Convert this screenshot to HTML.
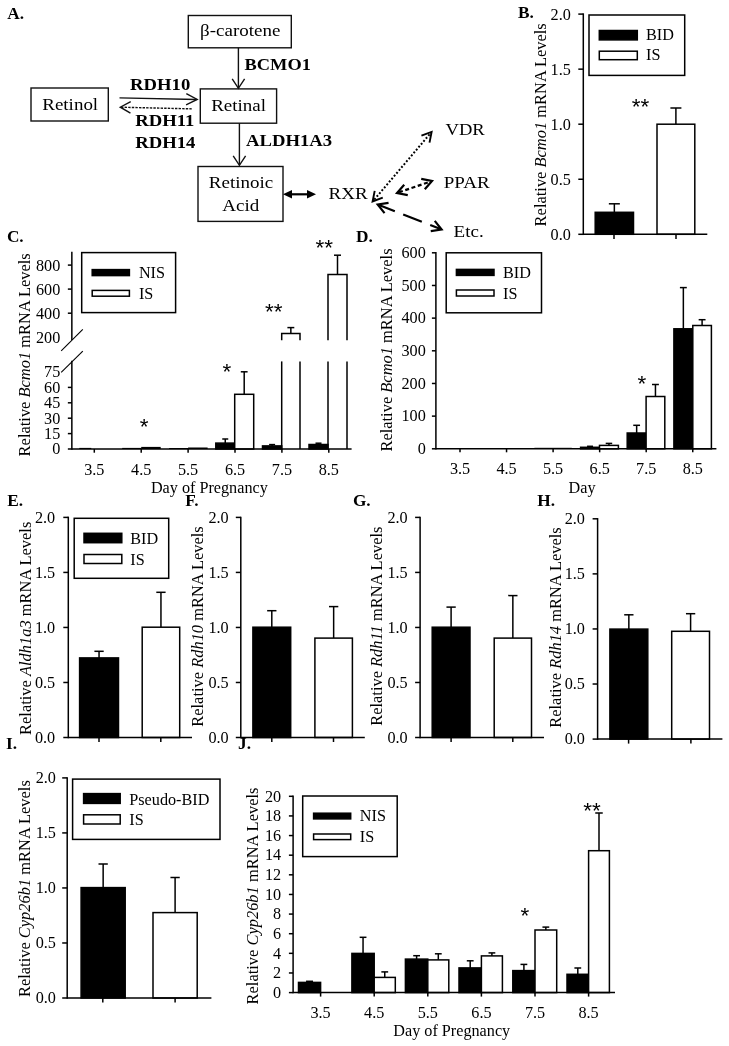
<!DOCTYPE html>
<html lang="en">
<head>
<meta charset="utf-8">
<title>Figure</title>
<style>
html,body{margin:0;padding:0;background:#fff;}
svg{display:block;}
text{font-family:"Liberation Serif", serif;fill:#000;white-space:pre;}
text.s{font-family:"Liberation Sans", sans-serif;}
</style>
</head>
<body>
<svg width="729" height="1046" viewBox="0 0 729 1046">
<rect x="0" y="0" width="729" height="1046" fill="#fff"/>
<text x="7.2" y="18.6" font-size="17.3" text-anchor="start" font-weight="bold" >A.</text>
<rect x="188.3" y="15.5" width="103" height="32.3" fill="#fff" stroke="#111" stroke-width="1.4"/>
<text transform="translate(240.2 36.2) scale(1 0.93)" font-size="19" text-anchor="middle" font-weight="normal">β-carotene</text>
<rect x="31" y="88" width="77.3" height="33" fill="#fff" stroke="#111" stroke-width="1.4"/>
<text transform="translate(70.2 110.2) scale(1 0.93)" font-size="19" text-anchor="middle" font-weight="normal">Retinol</text>
<rect x="200.3" y="88.9" width="76.3" height="34.3" fill="#fff" stroke="#111" stroke-width="1.4"/>
<text transform="translate(238.6 111.2) scale(1 0.93)" font-size="19" text-anchor="middle" font-weight="normal">Retinal</text>
<rect x="198" y="166.5" width="85" height="54.9" fill="#fff" stroke="#111" stroke-width="1.4"/>
<text transform="translate(241 188) scale(1 0.93)" font-size="19" text-anchor="middle" font-weight="normal">Retinoic</text>
<text transform="translate(240.8 210.6) scale(1 0.93)" font-size="19" text-anchor="middle" font-weight="normal">Acid</text>
<line x1="238.4" y1="47.8" x2="238.4" y2="88.3" stroke="#111" stroke-width="1.4" />
<polyline points="232.2,78.8 238.4,88.3 244.6,78.8" fill="none" stroke="#111" stroke-width="1.4" stroke-linejoin="miter"/>
<line x1="239.4" y1="123.2" x2="239.4" y2="165.3" stroke="#111" stroke-width="1.4" />
<polyline points="233.2,155.8 239.4,165.3 245.6,155.8" fill="none" stroke="#111" stroke-width="1.4" stroke-linejoin="miter"/>
<text transform="translate(244.5 69.6) scale(1 0.93)" font-size="18.4" text-anchor="start" font-weight="bold">BCMO1</text>
<text transform="translate(246 145.6) scale(1 0.93)" font-size="18.7" text-anchor="start" font-weight="bold">ALDH1A3</text>
<text transform="translate(130 90) scale(1 0.93)" font-size="18.7" text-anchor="start" font-weight="bold">RDH10</text>
<text transform="translate(135.2 125.5) scale(1 0.93)" font-size="18.7" text-anchor="start" font-weight="bold">RDH11</text>
<text transform="translate(135.2 147.7) scale(1 0.93)" font-size="18.7" text-anchor="start" font-weight="bold">RDH14</text>
<line x1="119.5" y1="97.9" x2="196.6" y2="99.5" stroke="#111" stroke-width="1.4" />
<polyline points="186.08,104.97 197.2,99.5 186.32,93.57" fill="none" stroke="#111" stroke-width="1.4" stroke-linejoin="miter"/>
<line x1="121" y1="107.2" x2="193" y2="108.9" stroke="#111" stroke-width="1.4" stroke-dasharray="2.4 1.2"/>
<polyline points="130.73,101.74 120.3,107.2 130.46,113.14" fill="none" stroke="#111" stroke-width="1.4" stroke-linejoin="miter"/>
<line x1="289" y1="194.3" x2="310" y2="194.3" stroke="#000" stroke-width="2.2" />
<polygon points="283,194.3 292,190 292,198.6" fill="#000"/>
<polygon points="316,194.3 307,190 307,198.6" fill="#000"/>
<text transform="translate(328.6 199.4) scale(1 0.93)" font-size="19" text-anchor="start" font-weight="normal">RXR</text>
<text transform="translate(445.5 134.9) scale(1 0.93)" font-size="18.6" text-anchor="start" font-weight="normal">VDR</text>
<text transform="translate(443.8 187.6) scale(1 0.93)" font-size="19" text-anchor="start" font-weight="normal">PPAR</text>
<text transform="translate(453.6 236.5) scale(1 0.93)" font-size="19" text-anchor="start" font-weight="normal">Etc.</text>
<line x1="374.3" y1="199.6" x2="430.8" y2="132.9" stroke="#000" stroke-width="2" stroke-dasharray="1.9 1.9"/>
<polyline points="429.51,142.57 431.6,131.9 421.42,135.73" fill="none" stroke="#000" stroke-width="1.9" stroke-linejoin="miter"/>
<polyline points="374.69,190.83 372.6,201.5 382.78,197.67" fill="none" stroke="#000" stroke-width="1.9" stroke-linejoin="miter"/>
<line x1="399" y1="192.3" x2="430" y2="181.7" stroke="#000" stroke-width="2.2" stroke-dasharray="4 2.6"/>
<polyline points="424.8,189.28 432,181 421.23,178.88" fill="none" stroke="#000" stroke-width="2.2" stroke-linejoin="miter"/>
<polyline points="404.2,184.72 397,193 407.77,195.12" fill="none" stroke="#000" stroke-width="2.2" stroke-linejoin="miter"/>
<line x1="379" y1="205" x2="440.5" y2="229.1" stroke="#000" stroke-width="2.2" stroke-dasharray="17 9 20 9 30"/>
<polyline points="430.75,231.15 441.6,229.5 434.76,220.91" fill="none" stroke="#000" stroke-width="2.2" stroke-linejoin="miter"/>
<polyline points="388.55,202.85 377.7,204.5 384.54,213.09" fill="none" stroke="#000" stroke-width="2.2" stroke-linejoin="miter"/>
<text x="518" y="18.4" font-size="17.3" text-anchor="start" font-weight="bold" >B.</text>
<line x1="614.35" y1="212.3" x2="614.35" y2="203.8" stroke="#000" stroke-width="1.5" />
<line x1="608.85" y1="203.8" x2="619.85" y2="203.8" stroke="#000" stroke-width="1.5" />
<rect x="595.2" y="212.3" width="38.3" height="22" fill="#000" stroke="#000" stroke-width="1.5"/>
<line x1="675.9" y1="124.2" x2="675.9" y2="108" stroke="#000" stroke-width="1.5" />
<line x1="670.4" y1="108" x2="681.4" y2="108" stroke="#000" stroke-width="1.5" />
<rect x="657" y="124.2" width="37.8" height="110.1" fill="#fff" stroke="#000" stroke-width="1.5"/>
<line x1="583.3" y1="234.3" x2="707.3" y2="234.3" stroke="#000" stroke-width="1.5" />
<line x1="614" y1="234.3" x2="614" y2="239" stroke="#000" stroke-width="1.5" />
<line x1="676" y1="234.3" x2="676" y2="239" stroke="#000" stroke-width="1.5" />
<line x1="583.3" y1="13.35" x2="583.3" y2="235.05" stroke="#000" stroke-width="1.5" />
<line x1="578.3" y1="234.3" x2="583.3" y2="234.3" stroke="#000" stroke-width="1.5" />
<text x="570.8" y="240.1" font-size="16.2" text-anchor="end" font-weight="normal" >0.0</text>
<line x1="578.3" y1="179.25" x2="583.3" y2="179.25" stroke="#000" stroke-width="1.5" />
<text x="570.8" y="185.05" font-size="16.2" text-anchor="end" font-weight="normal" >0.5</text>
<line x1="578.3" y1="124.2" x2="583.3" y2="124.2" stroke="#000" stroke-width="1.5" />
<text x="570.8" y="130" font-size="16.2" text-anchor="end" font-weight="normal" >1.0</text>
<line x1="578.3" y1="69.15" x2="583.3" y2="69.15" stroke="#000" stroke-width="1.5" />
<text x="570.8" y="74.95" font-size="16.2" text-anchor="end" font-weight="normal" >1.5</text>
<line x1="578.3" y1="14.1" x2="583.3" y2="14.1" stroke="#000" stroke-width="1.5" />
<text x="570.8" y="19.9" font-size="16.2" text-anchor="end" font-weight="normal" >2.0</text>
<rect x="589" y="15" width="95.7" height="60.4" fill="#fff" stroke="#000" stroke-width="1.5"/>
<rect x="599.3" y="30.5" width="38" height="9.4" fill="#000" stroke="#000" stroke-width="1.5"/>
<rect x="599.3" y="51.2" width="38" height="8.5" fill="#fff" stroke="#000" stroke-width="1.5"/>
<text x="646" y="40.2" font-size="16.2" text-anchor="start" font-weight="normal" >BID</text>
<text x="646" y="60.3" font-size="16.2" text-anchor="start" font-weight="normal" >IS</text>
<text transform="translate(546.4 124.8) rotate(-90)" font-size="16.45" text-anchor="middle">Relative <tspan font-style="italic">Bcmo1</tspan> mRNA Levels</text>
<text x="640.5" y="114.05" font-size="22.5" text-anchor="middle" class="s">**</text>
<text x="6.9" y="241.5" font-size="17.3" text-anchor="start" font-weight="bold" >C.</text>
<rect x="79.3" y="447.9" width="12" height="1.1" fill="#000"/>
<rect x="122.2" y="447.9" width="19" height="1.1" fill="#000"/>
<rect x="141.2" y="446.9" width="19.5" height="2.1" fill="#000"/>
<rect x="169.1" y="448" width="19" height="1" fill="#000"/>
<rect x="188.1" y="447.5" width="19.5" height="1.5" fill="#000"/>
<line x1="225.25" y1="443.1" x2="225.25" y2="439" stroke="#000" stroke-width="1.5" />
<line x1="222.25" y1="439" x2="228.25" y2="439" stroke="#000" stroke-width="1.5" />
<rect x="215.8" y="443.1" width="18.9" height="5.9" fill="#000" stroke="#000" stroke-width="1.5"/>
<line x1="244.2" y1="394.3" x2="244.2" y2="371.8" stroke="#000" stroke-width="1.5" />
<line x1="240.8" y1="371.8" x2="247.6" y2="371.8" stroke="#000" stroke-width="1.5" />
<rect x="234.7" y="394.3" width="19" height="54.7" fill="#fff" stroke="#000" stroke-width="1.5"/>
<line x1="272.1" y1="445.9" x2="272.1" y2="444.6" stroke="#000" stroke-width="1.5" />
<line x1="269.1" y1="444.6" x2="275.1" y2="444.6" stroke="#000" stroke-width="1.5" />
<rect x="262.5" y="445.9" width="19.2" height="3.1" fill="#000" stroke="#000" stroke-width="1.5"/>
<line x1="290.85" y1="333.4" x2="290.85" y2="327.6" stroke="#000" stroke-width="1.5" />
<line x1="287.4" y1="327.6" x2="294.3" y2="327.6" stroke="#000" stroke-width="1.5" />
<polyline points="281.7,340.2 281.7,333.4 300,333.4 300,340.2" fill="none" stroke="#000" stroke-width="1.5"/>
<line x1="281.7" y1="361.4" x2="281.7" y2="449" stroke="#000" stroke-width="1.5" />
<line x1="300" y1="361.4" x2="300" y2="449" stroke="#000" stroke-width="1.5" />
<line x1="337.5" y1="274.4" x2="337.5" y2="255.2" stroke="#000" stroke-width="1.5" />
<line x1="334" y1="255.2" x2="341" y2="255.2" stroke="#000" stroke-width="1.5" />
<polyline points="328,340.2 328,274.4 347,274.4 347,340.2" fill="none" stroke="#000" stroke-width="1.5"/>
<line x1="328" y1="361.4" x2="328" y2="449" stroke="#000" stroke-width="1.5" />
<line x1="347" y1="361.4" x2="347" y2="449" stroke="#000" stroke-width="1.5" />
<line x1="318.5" y1="444.5" x2="318.5" y2="443.2" stroke="#000" stroke-width="1.5" />
<line x1="315.5" y1="443.2" x2="321.5" y2="443.2" stroke="#000" stroke-width="1.5" />
<rect x="309" y="444.5" width="19" height="4.5" fill="#000" stroke="#000" stroke-width="1.5"/>
<line x1="71.85" y1="449" x2="351.6" y2="449" stroke="#000" stroke-width="1.5" />
<line x1="94.3" y1="449" x2="94.3" y2="452.7" stroke="#000" stroke-width="1.5" />
<text x="94.3" y="474.8" font-size="16.2" text-anchor="middle" font-weight="normal" >3.5</text>
<line x1="141.2" y1="449" x2="141.2" y2="452.7" stroke="#000" stroke-width="1.5" />
<text x="141.2" y="474.8" font-size="16.2" text-anchor="middle" font-weight="normal" >4.5</text>
<line x1="188.1" y1="449" x2="188.1" y2="452.7" stroke="#000" stroke-width="1.5" />
<text x="188.1" y="474.8" font-size="16.2" text-anchor="middle" font-weight="normal" >5.5</text>
<line x1="235" y1="449" x2="235" y2="452.7" stroke="#000" stroke-width="1.5" />
<text x="235" y="474.8" font-size="16.2" text-anchor="middle" font-weight="normal" >6.5</text>
<line x1="281.9" y1="449" x2="281.9" y2="452.7" stroke="#000" stroke-width="1.5" />
<text x="281.9" y="474.8" font-size="16.2" text-anchor="middle" font-weight="normal" >7.5</text>
<line x1="328.8" y1="449" x2="328.8" y2="452.7" stroke="#000" stroke-width="1.5" />
<text x="328.8" y="474.8" font-size="16.2" text-anchor="middle" font-weight="normal" >8.5</text>
<text x="150.9" y="492.7" font-size="16.2" text-anchor="start" font-weight="normal" >Day of Pregnancy</text>
<line x1="71.85" y1="251.85" x2="71.85" y2="340.1" stroke="#000" stroke-width="1.5" />
<line x1="71.85" y1="360.7" x2="71.85" y2="449.75" stroke="#000" stroke-width="1.5" />
<line x1="67.85" y1="265.1" x2="71.85" y2="265.1" stroke="#000" stroke-width="1.5" />
<text x="60.3" y="270.5" font-size="16.2" text-anchor="end" font-weight="normal" >800</text>
<line x1="67.85" y1="289.1" x2="71.85" y2="289.1" stroke="#000" stroke-width="1.5" />
<text x="60.3" y="294.5" font-size="16.2" text-anchor="end" font-weight="normal" >600</text>
<line x1="67.85" y1="313.2" x2="71.85" y2="313.2" stroke="#000" stroke-width="1.5" />
<text x="60.3" y="318.6" font-size="16.2" text-anchor="end" font-weight="normal" >400</text>
<text x="60.3" y="342.8" font-size="16.2" text-anchor="end" font-weight="normal" >200</text>
<text x="60.3" y="377.4" font-size="16.2" text-anchor="end" font-weight="normal" >75</text>
<line x1="67.85" y1="387.4" x2="71.85" y2="387.4" stroke="#000" stroke-width="1.5" />
<text x="60.3" y="392.8" font-size="16.2" text-anchor="end" font-weight="normal" >60</text>
<line x1="67.85" y1="402.8" x2="71.85" y2="402.8" stroke="#000" stroke-width="1.5" />
<text x="60.3" y="408.2" font-size="16.2" text-anchor="end" font-weight="normal" >45</text>
<line x1="67.85" y1="418.2" x2="71.85" y2="418.2" stroke="#000" stroke-width="1.5" />
<text x="60.3" y="423.6" font-size="16.2" text-anchor="end" font-weight="normal" >30</text>
<line x1="67.85" y1="433.6" x2="71.85" y2="433.6" stroke="#000" stroke-width="1.5" />
<text x="60.3" y="439" font-size="16.2" text-anchor="end" font-weight="normal" >15</text>
<line x1="67.85" y1="449" x2="71.85" y2="449" stroke="#000" stroke-width="1.5" />
<text x="60.3" y="454.4" font-size="16.2" text-anchor="end" font-weight="normal" >0</text>
<line x1="61.2" y1="350.8" x2="82.8" y2="329.4" stroke="#000" stroke-width="1.1" />
<line x1="61.2" y1="372.4" x2="82.8" y2="351.1" stroke="#000" stroke-width="1.1" />
<rect x="81.7" y="252.6" width="93.9" height="60" fill="#fff" stroke="#000" stroke-width="1.5"/>
<rect x="92.2" y="269.6" width="37.2" height="6" fill="#000" stroke="#000" stroke-width="1.5"/>
<rect x="92.2" y="290.4" width="37.2" height="5.8" fill="#fff" stroke="#000" stroke-width="1.5"/>
<text x="138.9" y="278.2" font-size="16.2" text-anchor="start" font-weight="normal" >NIS</text>
<text x="138.9" y="298.7" font-size="16.2" text-anchor="start" font-weight="normal" >IS</text>
<text transform="translate(29.8 354.8) rotate(-90)" font-size="16.45" text-anchor="middle">Relative <tspan font-style="italic">Bcmo1</tspan> mRNA Levels</text>
<text x="144.2" y="434.45" font-size="22.5" text-anchor="middle" class="s">*</text>
<text x="226.8" y="379.45" font-size="22.5" text-anchor="middle" class="s">*</text>
<text x="273.8" y="319.25" font-size="22.5" text-anchor="middle" class="s">**</text>
<text x="324.3" y="254.95" font-size="22.5" text-anchor="middle" class="s">**</text>
<text x="356" y="241.5" font-size="17.3" text-anchor="start" font-weight="bold" >D.</text>
<rect x="534.4" y="447.8" width="37.4" height="1" fill="#000"/>
<line x1="590.05" y1="447.3" x2="590.05" y2="446.3" stroke="#000" stroke-width="1.5" />
<line x1="587.05" y1="446.3" x2="593.05" y2="446.3" stroke="#000" stroke-width="1.5" />
<rect x="580.6" y="447.3" width="18.9" height="1.5" fill="#000" stroke="#000" stroke-width="1.5"/>
<line x1="608.95" y1="445.4" x2="608.95" y2="443.4" stroke="#000" stroke-width="1.5" />
<line x1="605.7" y1="443.4" x2="612.2" y2="443.4" stroke="#000" stroke-width="1.5" />
<rect x="599.5" y="445.4" width="18.9" height="3.4" fill="#fff" stroke="#000" stroke-width="1.5"/>
<line x1="636.65" y1="433" x2="636.65" y2="425.3" stroke="#000" stroke-width="1.5" />
<line x1="633.25" y1="425.3" x2="640.05" y2="425.3" stroke="#000" stroke-width="1.5" />
<rect x="627.2" y="433" width="18.9" height="15.8" fill="#000" stroke="#000" stroke-width="1.5"/>
<line x1="655.45" y1="396.5" x2="655.45" y2="384.5" stroke="#000" stroke-width="1.5" />
<line x1="652" y1="384.5" x2="658.9" y2="384.5" stroke="#000" stroke-width="1.5" />
<rect x="646.1" y="396.5" width="18.7" height="52.3" fill="#fff" stroke="#000" stroke-width="1.5"/>
<line x1="683.35" y1="328.8" x2="683.35" y2="287.6" stroke="#000" stroke-width="1.5" />
<line x1="679.9" y1="287.6" x2="686.8" y2="287.6" stroke="#000" stroke-width="1.5" />
<rect x="673.9" y="328.8" width="18.9" height="120" fill="#000" stroke="#000" stroke-width="1.5"/>
<line x1="702.1" y1="325.5" x2="702.1" y2="319.7" stroke="#000" stroke-width="1.5" />
<line x1="698.65" y1="319.7" x2="705.55" y2="319.7" stroke="#000" stroke-width="1.5" />
<rect x="692.8" y="325.5" width="18.6" height="123.3" fill="#fff" stroke="#000" stroke-width="1.5"/>
<line x1="435.9" y1="448.8" x2="716.4" y2="448.8" stroke="#000" stroke-width="1.5" />
<line x1="460" y1="448.8" x2="460" y2="452.3" stroke="#000" stroke-width="1.5" />
<text x="460" y="474.3" font-size="16.2" text-anchor="middle" font-weight="normal" >3.5</text>
<line x1="506.55" y1="448.8" x2="506.55" y2="452.3" stroke="#000" stroke-width="1.5" />
<text x="506.55" y="474.3" font-size="16.2" text-anchor="middle" font-weight="normal" >4.5</text>
<line x1="553.1" y1="448.8" x2="553.1" y2="452.3" stroke="#000" stroke-width="1.5" />
<text x="553.1" y="474.3" font-size="16.2" text-anchor="middle" font-weight="normal" >5.5</text>
<line x1="599.65" y1="448.8" x2="599.65" y2="452.3" stroke="#000" stroke-width="1.5" />
<text x="599.65" y="474.3" font-size="16.2" text-anchor="middle" font-weight="normal" >6.5</text>
<line x1="646.2" y1="448.8" x2="646.2" y2="452.3" stroke="#000" stroke-width="1.5" />
<text x="646.2" y="474.3" font-size="16.2" text-anchor="middle" font-weight="normal" >7.5</text>
<line x1="692.75" y1="448.8" x2="692.75" y2="452.3" stroke="#000" stroke-width="1.5" />
<text x="692.75" y="474.3" font-size="16.2" text-anchor="middle" font-weight="normal" >8.5</text>
<text x="582" y="492.8" font-size="16.2" text-anchor="middle" font-weight="normal" >Day</text>
<line x1="435.9" y1="252.05" x2="435.9" y2="449.55" stroke="#000" stroke-width="1.5" />
<line x1="431.9" y1="448.8" x2="435.9" y2="448.8" stroke="#000" stroke-width="1.5" />
<text x="425.8" y="454.1" font-size="16.2" text-anchor="end" font-weight="normal" >0</text>
<line x1="431.9" y1="416.13" x2="435.9" y2="416.13" stroke="#000" stroke-width="1.5" />
<text x="425.8" y="421.43" font-size="16.2" text-anchor="end" font-weight="normal" >100</text>
<line x1="431.9" y1="383.47" x2="435.9" y2="383.47" stroke="#000" stroke-width="1.5" />
<text x="425.8" y="388.77" font-size="16.2" text-anchor="end" font-weight="normal" >200</text>
<line x1="431.9" y1="350.8" x2="435.9" y2="350.8" stroke="#000" stroke-width="1.5" />
<text x="425.8" y="356.1" font-size="16.2" text-anchor="end" font-weight="normal" >300</text>
<line x1="431.9" y1="318.13" x2="435.9" y2="318.13" stroke="#000" stroke-width="1.5" />
<text x="425.8" y="323.43" font-size="16.2" text-anchor="end" font-weight="normal" >400</text>
<line x1="431.9" y1="285.47" x2="435.9" y2="285.47" stroke="#000" stroke-width="1.5" />
<text x="425.8" y="290.77" font-size="16.2" text-anchor="end" font-weight="normal" >500</text>
<line x1="431.9" y1="252.8" x2="435.9" y2="252.8" stroke="#000" stroke-width="1.5" />
<text x="425.8" y="258.1" font-size="16.2" text-anchor="end" font-weight="normal" >600</text>
<rect x="446.2" y="252.8" width="95.3" height="60" fill="#fff" stroke="#000" stroke-width="1.5"/>
<rect x="456.4" y="269.4" width="37.6" height="6" fill="#000" stroke="#000" stroke-width="1.5"/>
<rect x="456.4" y="290" width="37.6" height="6" fill="#fff" stroke="#000" stroke-width="1.5"/>
<text x="503" y="277.7" font-size="16.2" text-anchor="start" font-weight="normal" >BID</text>
<text x="503" y="298.6" font-size="16.2" text-anchor="start" font-weight="normal" >IS</text>
<text transform="translate(391.9 350) rotate(-90)" font-size="16.45" text-anchor="middle">Relative <tspan font-style="italic">Bcmo1</tspan> mRNA Levels</text>
<text x="641.8" y="391.25" font-size="22.5" text-anchor="middle" class="s">*</text>
<text x="7.3" y="505.9" font-size="17.3" text-anchor="start" font-weight="bold" >E.</text>
<line x1="99.05" y1="657.9" x2="99.05" y2="651.3" stroke="#000" stroke-width="1.5" />
<line x1="94.4" y1="651.3" x2="103.7" y2="651.3" stroke="#000" stroke-width="1.5" />
<rect x="79.6" y="657.9" width="38.9" height="79.6" fill="#000" stroke="#000" stroke-width="1.5"/>
<line x1="160.95" y1="627.2" x2="160.95" y2="592.3" stroke="#000" stroke-width="1.5" />
<line x1="156.3" y1="592.3" x2="165.6" y2="592.3" stroke="#000" stroke-width="1.5" />
<rect x="142.2" y="627.2" width="37.5" height="110.3" fill="#fff" stroke="#000" stroke-width="1.5"/>
<line x1="68.3" y1="737.5" x2="192" y2="737.5" stroke="#000" stroke-width="1.5" />
<line x1="99" y1="737.5" x2="99" y2="742" stroke="#000" stroke-width="1.5" />
<line x1="160.8" y1="737.5" x2="160.8" y2="742" stroke="#000" stroke-width="1.5" />
<line x1="68.3" y1="516.65" x2="68.3" y2="738.25" stroke="#000" stroke-width="1.5" />
<line x1="63.3" y1="737.5" x2="68.3" y2="737.5" stroke="#000" stroke-width="1.5" />
<text x="55.2" y="742.8" font-size="16.2" text-anchor="end" font-weight="normal" >0.0</text>
<line x1="63.3" y1="682.48" x2="68.3" y2="682.48" stroke="#000" stroke-width="1.5" />
<text x="55.2" y="687.77" font-size="16.2" text-anchor="end" font-weight="normal" >0.5</text>
<line x1="63.3" y1="627.45" x2="68.3" y2="627.45" stroke="#000" stroke-width="1.5" />
<text x="55.2" y="632.75" font-size="16.2" text-anchor="end" font-weight="normal" >1.0</text>
<line x1="63.3" y1="572.42" x2="68.3" y2="572.42" stroke="#000" stroke-width="1.5" />
<text x="55.2" y="577.72" font-size="16.2" text-anchor="end" font-weight="normal" >1.5</text>
<line x1="63.3" y1="517.4" x2="68.3" y2="517.4" stroke="#000" stroke-width="1.5" />
<text x="55.2" y="522.7" font-size="16.2" text-anchor="end" font-weight="normal" >2.0</text>
<rect x="74.2" y="518.3" width="94.5" height="60" fill="#fff" stroke="#000" stroke-width="1.5"/>
<rect x="84" y="533.3" width="37.8" height="9.4" fill="#000" stroke="#000" stroke-width="1.5"/>
<rect x="84" y="554.5" width="37.8" height="9" fill="#fff" stroke="#000" stroke-width="1.5"/>
<text x="130.3" y="543.5" font-size="16.2" text-anchor="start" font-weight="normal" >BID</text>
<text x="130.3" y="564.6" font-size="16.2" text-anchor="start" font-weight="normal" >IS</text>
<text transform="translate(30.9 628.3) rotate(-90)" font-size="16.45" text-anchor="middle">Relative <tspan font-style="italic">Aldh1a3</tspan> mRNA Levels</text>
<text x="185.2" y="505.9" font-size="17.3" text-anchor="start" font-weight="bold" >F.</text>
<line x1="271.8" y1="627.2" x2="271.8" y2="610.7" stroke="#000" stroke-width="1.5" />
<line x1="267.15" y1="610.7" x2="276.45" y2="610.7" stroke="#000" stroke-width="1.5" />
<rect x="252.9" y="627.2" width="37.8" height="110.3" fill="#000" stroke="#000" stroke-width="1.5"/>
<line x1="333.65" y1="638.1" x2="333.65" y2="606.6" stroke="#000" stroke-width="1.5" />
<line x1="329" y1="606.6" x2="338.3" y2="606.6" stroke="#000" stroke-width="1.5" />
<rect x="314.9" y="638.1" width="37.5" height="99.4" fill="#fff" stroke="#000" stroke-width="1.5"/>
<line x1="240.8" y1="737.5" x2="364.8" y2="737.5" stroke="#000" stroke-width="1.5" />
<line x1="271.8" y1="737.5" x2="271.8" y2="742" stroke="#000" stroke-width="1.5" />
<line x1="333.5" y1="737.5" x2="333.5" y2="742" stroke="#000" stroke-width="1.5" />
<line x1="240.8" y1="516.65" x2="240.8" y2="738.25" stroke="#000" stroke-width="1.5" />
<line x1="235.8" y1="737.5" x2="240.8" y2="737.5" stroke="#000" stroke-width="1.5" />
<text x="228.7" y="742.8" font-size="16.2" text-anchor="end" font-weight="normal" >0.0</text>
<line x1="235.8" y1="682.48" x2="240.8" y2="682.48" stroke="#000" stroke-width="1.5" />
<text x="228.7" y="687.77" font-size="16.2" text-anchor="end" font-weight="normal" >0.5</text>
<line x1="235.8" y1="627.45" x2="240.8" y2="627.45" stroke="#000" stroke-width="1.5" />
<text x="228.7" y="632.75" font-size="16.2" text-anchor="end" font-weight="normal" >1.0</text>
<line x1="235.8" y1="572.42" x2="240.8" y2="572.42" stroke="#000" stroke-width="1.5" />
<text x="228.7" y="577.72" font-size="16.2" text-anchor="end" font-weight="normal" >1.5</text>
<line x1="235.8" y1="517.4" x2="240.8" y2="517.4" stroke="#000" stroke-width="1.5" />
<text x="228.7" y="522.7" font-size="16.2" text-anchor="end" font-weight="normal" >2.0</text>
<text transform="translate(203 626.5) rotate(-90)" font-size="16.45" text-anchor="middle">Relative <tspan font-style="italic">Rdh10</tspan> mRNA Levels</text>
<text x="352.9" y="505.8" font-size="17.3" text-anchor="start" font-weight="bold" >G.</text>
<line x1="451.1" y1="627.2" x2="451.1" y2="607.1" stroke="#000" stroke-width="1.5" />
<line x1="446.45" y1="607.1" x2="455.75" y2="607.1" stroke="#000" stroke-width="1.5" />
<rect x="432.2" y="627.2" width="37.8" height="110.3" fill="#000" stroke="#000" stroke-width="1.5"/>
<line x1="512.85" y1="638.1" x2="512.85" y2="595.6" stroke="#000" stroke-width="1.5" />
<line x1="508.2" y1="595.6" x2="517.5" y2="595.6" stroke="#000" stroke-width="1.5" />
<rect x="494.2" y="638.1" width="37.3" height="99.4" fill="#fff" stroke="#000" stroke-width="1.5"/>
<line x1="420.1" y1="737.5" x2="544" y2="737.5" stroke="#000" stroke-width="1.5" />
<line x1="451.1" y1="737.5" x2="451.1" y2="742" stroke="#000" stroke-width="1.5" />
<line x1="512.8" y1="737.5" x2="512.8" y2="742" stroke="#000" stroke-width="1.5" />
<line x1="420.1" y1="516.65" x2="420.1" y2="738.25" stroke="#000" stroke-width="1.5" />
<line x1="415.1" y1="737.5" x2="420.1" y2="737.5" stroke="#000" stroke-width="1.5" />
<text x="407.7" y="742.8" font-size="16.2" text-anchor="end" font-weight="normal" >0.0</text>
<line x1="415.1" y1="682.48" x2="420.1" y2="682.48" stroke="#000" stroke-width="1.5" />
<text x="407.7" y="687.77" font-size="16.2" text-anchor="end" font-weight="normal" >0.5</text>
<line x1="415.1" y1="627.45" x2="420.1" y2="627.45" stroke="#000" stroke-width="1.5" />
<text x="407.7" y="632.75" font-size="16.2" text-anchor="end" font-weight="normal" >1.0</text>
<line x1="415.1" y1="572.42" x2="420.1" y2="572.42" stroke="#000" stroke-width="1.5" />
<text x="407.7" y="577.72" font-size="16.2" text-anchor="end" font-weight="normal" >1.5</text>
<line x1="415.1" y1="517.4" x2="420.1" y2="517.4" stroke="#000" stroke-width="1.5" />
<text x="407.7" y="522.7" font-size="16.2" text-anchor="end" font-weight="normal" >2.0</text>
<text transform="translate(382.3 626.2) rotate(-90)" font-size="16.45" text-anchor="middle">Relative <tspan font-style="italic">Rdh11</tspan> mRNA Levels</text>
<text x="537.2" y="505.8" font-size="17.3" text-anchor="start" font-weight="bold" >H.</text>
<line x1="628.85" y1="629.1" x2="628.85" y2="614.8" stroke="#000" stroke-width="1.5" />
<line x1="624.2" y1="614.8" x2="633.5" y2="614.8" stroke="#000" stroke-width="1.5" />
<rect x="609.9" y="629.1" width="37.9" height="110" fill="#000" stroke="#000" stroke-width="1.5"/>
<line x1="690.6" y1="631.3" x2="690.6" y2="613.7" stroke="#000" stroke-width="1.5" />
<line x1="685.95" y1="613.7" x2="695.25" y2="613.7" stroke="#000" stroke-width="1.5" />
<rect x="671.7" y="631.3" width="37.8" height="107.8" fill="#fff" stroke="#000" stroke-width="1.5"/>
<line x1="597.6" y1="739.1" x2="722.4" y2="739.1" stroke="#000" stroke-width="1.5" />
<line x1="628.6" y1="739.1" x2="628.6" y2="743.6" stroke="#000" stroke-width="1.5" />
<line x1="690.9" y1="739.1" x2="690.9" y2="743.6" stroke="#000" stroke-width="1.5" />
<line x1="597.6" y1="518.05" x2="597.6" y2="739.85" stroke="#000" stroke-width="1.5" />
<line x1="592.6" y1="739.1" x2="597.6" y2="739.1" stroke="#000" stroke-width="1.5" />
<text x="584.9" y="744.4" font-size="16.2" text-anchor="end" font-weight="normal" >0.0</text>
<line x1="592.6" y1="684.02" x2="597.6" y2="684.02" stroke="#000" stroke-width="1.5" />
<text x="584.9" y="689.32" font-size="16.2" text-anchor="end" font-weight="normal" >0.5</text>
<line x1="592.6" y1="628.95" x2="597.6" y2="628.95" stroke="#000" stroke-width="1.5" />
<text x="584.9" y="634.25" font-size="16.2" text-anchor="end" font-weight="normal" >1.0</text>
<line x1="592.6" y1="573.88" x2="597.6" y2="573.88" stroke="#000" stroke-width="1.5" />
<text x="584.9" y="579.17" font-size="16.2" text-anchor="end" font-weight="normal" >1.5</text>
<line x1="592.6" y1="518.8" x2="597.6" y2="518.8" stroke="#000" stroke-width="1.5" />
<text x="584.9" y="524.1" font-size="16.2" text-anchor="end" font-weight="normal" >2.0</text>
<text transform="translate(560.6 627.5) rotate(-90)" font-size="16.45" text-anchor="middle">Relative <tspan font-style="italic">Rdh14</tspan> mRNA Levels</text>
<text x="6" y="749.3" font-size="17.3" text-anchor="start" font-weight="bold" >I.</text>
<line x1="103.15" y1="887.6" x2="103.15" y2="864" stroke="#000" stroke-width="1.5" />
<line x1="98.5" y1="864" x2="107.8" y2="864" stroke="#000" stroke-width="1.5" />
<rect x="81.1" y="887.6" width="44.1" height="110.4" fill="#000" stroke="#000" stroke-width="1.5"/>
<line x1="175.1" y1="912.6" x2="175.1" y2="877.5" stroke="#000" stroke-width="1.5" />
<line x1="170.45" y1="877.5" x2="179.75" y2="877.5" stroke="#000" stroke-width="1.5" />
<rect x="153" y="912.6" width="44.2" height="85.4" fill="#fff" stroke="#000" stroke-width="1.5"/>
<line x1="67.2" y1="998" x2="211.4" y2="998" stroke="#000" stroke-width="1.5" />
<line x1="102.8" y1="998" x2="102.8" y2="1002.5" stroke="#000" stroke-width="1.5" />
<line x1="175.1" y1="998" x2="175.1" y2="1002.5" stroke="#000" stroke-width="1.5" />
<line x1="67.2" y1="777.15" x2="67.2" y2="998.75" stroke="#000" stroke-width="1.5" />
<line x1="62.2" y1="998" x2="67.2" y2="998" stroke="#000" stroke-width="1.5" />
<text x="55.9" y="1003.3" font-size="16.2" text-anchor="end" font-weight="normal" >0.0</text>
<line x1="62.2" y1="942.98" x2="67.2" y2="942.98" stroke="#000" stroke-width="1.5" />
<text x="55.9" y="948.27" font-size="16.2" text-anchor="end" font-weight="normal" >0.5</text>
<line x1="62.2" y1="887.95" x2="67.2" y2="887.95" stroke="#000" stroke-width="1.5" />
<text x="55.9" y="893.25" font-size="16.2" text-anchor="end" font-weight="normal" >1.0</text>
<line x1="62.2" y1="832.92" x2="67.2" y2="832.92" stroke="#000" stroke-width="1.5" />
<text x="55.9" y="838.22" font-size="16.2" text-anchor="end" font-weight="normal" >1.5</text>
<line x1="62.2" y1="777.9" x2="67.2" y2="777.9" stroke="#000" stroke-width="1.5" />
<text x="55.9" y="783.2" font-size="16.2" text-anchor="end" font-weight="normal" >2.0</text>
<rect x="72.6" y="779.1" width="147.4" height="60.3" fill="#fff" stroke="#000" stroke-width="1.5"/>
<rect x="83.6" y="793.6" width="36.6" height="9.8" fill="#000" stroke="#000" stroke-width="1.5"/>
<rect x="83.6" y="814.8" width="36.6" height="9.2" fill="#fff" stroke="#000" stroke-width="1.5"/>
<text x="129.3" y="804.7" font-size="16.2" text-anchor="start" font-weight="normal" >Pseudo-BID</text>
<text x="129.3" y="825.2" font-size="16.2" text-anchor="start" font-weight="normal" >IS</text>
<text transform="translate(30 888.6) rotate(-90)" font-size="16.45" text-anchor="middle">Relative <tspan font-style="italic">Cyp26b1</tspan> mRNA Levels</text>
<text x="238" y="749.3" font-size="17.3" text-anchor="start" font-weight="bold" >J.</text>
<line x1="309.55" y1="982.4" x2="309.55" y2="981.3" stroke="#000" stroke-width="1.5" />
<line x1="306.05" y1="981.3" x2="313.05" y2="981.3" stroke="#000" stroke-width="1.5" />
<rect x="298.5" y="982.4" width="22.1" height="10.2" fill="#000" stroke="#000" stroke-width="1.5"/>
<line x1="363.05" y1="953.4" x2="363.05" y2="937.3" stroke="#000" stroke-width="1.5" />
<line x1="359.65" y1="937.3" x2="366.45" y2="937.3" stroke="#000" stroke-width="1.5" />
<rect x="351.9" y="953.4" width="22.3" height="39.2" fill="#000" stroke="#000" stroke-width="1.5"/>
<line x1="384.75" y1="977.4" x2="384.75" y2="971.9" stroke="#000" stroke-width="1.5" />
<line x1="381.35" y1="971.9" x2="388.15" y2="971.9" stroke="#000" stroke-width="1.5" />
<rect x="374.2" y="977.4" width="21.1" height="15.2" fill="#fff" stroke="#000" stroke-width="1.5"/>
<line x1="416.6" y1="959.1" x2="416.6" y2="955.7" stroke="#000" stroke-width="1.5" />
<line x1="413.2" y1="955.7" x2="420" y2="955.7" stroke="#000" stroke-width="1.5" />
<rect x="405.4" y="959.1" width="22.4" height="33.5" fill="#000" stroke="#000" stroke-width="1.5"/>
<line x1="438.3" y1="959.9" x2="438.3" y2="953.8" stroke="#000" stroke-width="1.5" />
<line x1="434.9" y1="953.8" x2="441.7" y2="953.8" stroke="#000" stroke-width="1.5" />
<rect x="427.8" y="959.9" width="21" height="32.7" fill="#fff" stroke="#000" stroke-width="1.5"/>
<line x1="470.2" y1="967.9" x2="470.2" y2="960.8" stroke="#000" stroke-width="1.5" />
<line x1="466.8" y1="960.8" x2="473.6" y2="960.8" stroke="#000" stroke-width="1.5" />
<rect x="459" y="967.9" width="22.4" height="24.7" fill="#000" stroke="#000" stroke-width="1.5"/>
<line x1="491.9" y1="955.9" x2="491.9" y2="952.9" stroke="#000" stroke-width="1.5" />
<line x1="488.5" y1="952.9" x2="495.3" y2="952.9" stroke="#000" stroke-width="1.5" />
<rect x="481.4" y="955.9" width="21" height="36.7" fill="#fff" stroke="#000" stroke-width="1.5"/>
<line x1="523.9" y1="970.6" x2="523.9" y2="964.4" stroke="#000" stroke-width="1.5" />
<line x1="520.5" y1="964.4" x2="527.3" y2="964.4" stroke="#000" stroke-width="1.5" />
<rect x="512.8" y="970.6" width="22.2" height="22" fill="#000" stroke="#000" stroke-width="1.5"/>
<line x1="545.85" y1="930" x2="545.85" y2="927.1" stroke="#000" stroke-width="1.5" />
<line x1="542.45" y1="927.1" x2="549.25" y2="927.1" stroke="#000" stroke-width="1.5" />
<rect x="535" y="930" width="21.7" height="62.6" fill="#fff" stroke="#000" stroke-width="1.5"/>
<line x1="577.8" y1="974.3" x2="577.8" y2="968" stroke="#000" stroke-width="1.5" />
<line x1="574.4" y1="968" x2="581.2" y2="968" stroke="#000" stroke-width="1.5" />
<rect x="567" y="974.3" width="21.6" height="18.3" fill="#000" stroke="#000" stroke-width="1.5"/>
<line x1="599" y1="850.7" x2="599" y2="813" stroke="#000" stroke-width="1.5" />
<line x1="595.25" y1="813" x2="602.75" y2="813" stroke="#000" stroke-width="1.5" />
<rect x="588.6" y="850.7" width="20.8" height="141.9" fill="#fff" stroke="#000" stroke-width="1.5"/>
<line x1="293.1" y1="992.6" x2="615" y2="992.6" stroke="#000" stroke-width="1.5" />
<line x1="320.6" y1="992.6" x2="320.6" y2="996.6" stroke="#000" stroke-width="1.5" />
<text x="320.6" y="1018.3" font-size="16.2" text-anchor="middle" font-weight="normal" >3.5</text>
<line x1="374.2" y1="992.6" x2="374.2" y2="996.6" stroke="#000" stroke-width="1.5" />
<text x="374.2" y="1018.3" font-size="16.2" text-anchor="middle" font-weight="normal" >4.5</text>
<line x1="427.8" y1="992.6" x2="427.8" y2="996.6" stroke="#000" stroke-width="1.5" />
<text x="427.8" y="1018.3" font-size="16.2" text-anchor="middle" font-weight="normal" >5.5</text>
<line x1="481.4" y1="992.6" x2="481.4" y2="996.6" stroke="#000" stroke-width="1.5" />
<text x="481.4" y="1018.3" font-size="16.2" text-anchor="middle" font-weight="normal" >6.5</text>
<line x1="535" y1="992.6" x2="535" y2="996.6" stroke="#000" stroke-width="1.5" />
<text x="535" y="1018.3" font-size="16.2" text-anchor="middle" font-weight="normal" >7.5</text>
<line x1="588.6" y1="992.6" x2="588.6" y2="996.6" stroke="#000" stroke-width="1.5" />
<text x="588.6" y="1018.3" font-size="16.2" text-anchor="middle" font-weight="normal" >8.5</text>
<text x="393.3" y="1036" font-size="16.2" text-anchor="start" font-weight="normal" >Day of Pregnancy</text>
<line x1="293.1" y1="795.55" x2="293.1" y2="993.35" stroke="#000" stroke-width="1.5" />
<line x1="288.9" y1="992.6" x2="293.1" y2="992.6" stroke="#000" stroke-width="1.5" />
<text x="281.1" y="997.9" font-size="16.2" text-anchor="end" font-weight="normal" >0</text>
<line x1="288.9" y1="972.97" x2="293.1" y2="972.97" stroke="#000" stroke-width="1.5" />
<text x="281.1" y="978.27" font-size="16.2" text-anchor="end" font-weight="normal" >2</text>
<line x1="288.9" y1="953.34" x2="293.1" y2="953.34" stroke="#000" stroke-width="1.5" />
<text x="281.1" y="958.64" font-size="16.2" text-anchor="end" font-weight="normal" >4</text>
<line x1="288.9" y1="933.71" x2="293.1" y2="933.71" stroke="#000" stroke-width="1.5" />
<text x="281.1" y="939.01" font-size="16.2" text-anchor="end" font-weight="normal" >6</text>
<line x1="288.9" y1="914.08" x2="293.1" y2="914.08" stroke="#000" stroke-width="1.5" />
<text x="281.1" y="919.38" font-size="16.2" text-anchor="end" font-weight="normal" >8</text>
<line x1="288.9" y1="894.45" x2="293.1" y2="894.45" stroke="#000" stroke-width="1.5" />
<text x="281.1" y="899.75" font-size="16.2" text-anchor="end" font-weight="normal" >10</text>
<line x1="288.9" y1="874.82" x2="293.1" y2="874.82" stroke="#000" stroke-width="1.5" />
<text x="281.1" y="880.12" font-size="16.2" text-anchor="end" font-weight="normal" >12</text>
<line x1="288.9" y1="855.19" x2="293.1" y2="855.19" stroke="#000" stroke-width="1.5" />
<text x="281.1" y="860.49" font-size="16.2" text-anchor="end" font-weight="normal" >14</text>
<line x1="288.9" y1="835.56" x2="293.1" y2="835.56" stroke="#000" stroke-width="1.5" />
<text x="281.1" y="840.86" font-size="16.2" text-anchor="end" font-weight="normal" >16</text>
<line x1="288.9" y1="815.93" x2="293.1" y2="815.93" stroke="#000" stroke-width="1.5" />
<text x="281.1" y="821.23" font-size="16.2" text-anchor="end" font-weight="normal" >18</text>
<line x1="288.9" y1="796.3" x2="293.1" y2="796.3" stroke="#000" stroke-width="1.5" />
<text x="281.1" y="801.6" font-size="16.2" text-anchor="end" font-weight="normal" >20</text>
<rect x="302.7" y="796" width="94.5" height="60.6" fill="#fff" stroke="#000" stroke-width="1.5"/>
<rect x="313.6" y="813.2" width="37.1" height="5.7" fill="#000" stroke="#000" stroke-width="1.5"/>
<rect x="313.6" y="834" width="37.1" height="5.6" fill="#fff" stroke="#000" stroke-width="1.5"/>
<text x="359.8" y="821.3" font-size="16.2" text-anchor="start" font-weight="normal" >NIS</text>
<text x="359.8" y="841.6" font-size="16.2" text-anchor="start" font-weight="normal" >IS</text>
<text transform="translate(257.8 896) rotate(-90)" font-size="16.45" text-anchor="middle">Relative <tspan font-style="italic">Cyp26b1</tspan> mRNA Levels</text>
<text x="525" y="922.85" font-size="22.5" text-anchor="middle" class="s">*</text>
<text x="591.9" y="818.45" font-size="22.5" text-anchor="middle" class="s">**</text>
</svg>
</body>
</html>
